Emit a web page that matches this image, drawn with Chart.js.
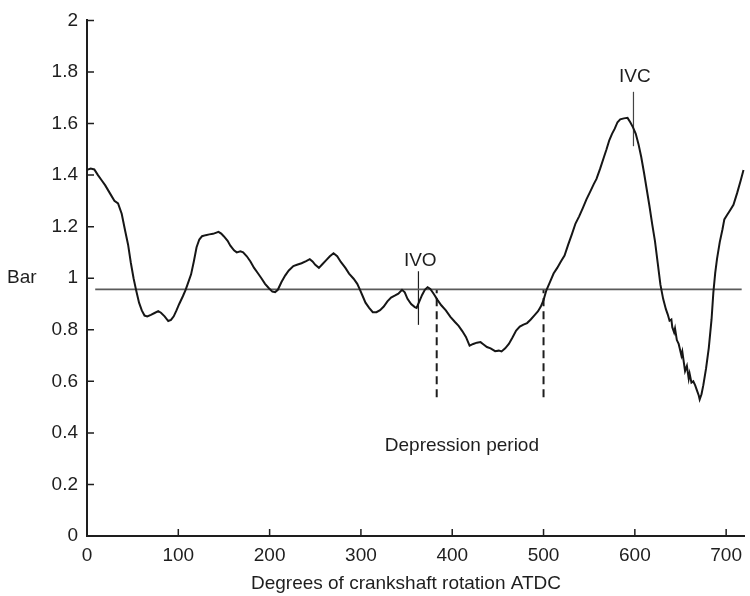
<!DOCTYPE html>
<html lang="en">
<head>
    <meta charset="UTF-8">
    <script src="https://cdn.jsdelivr.net/npm/chart.js@4.4.1/dist/chart.umd.min.js"></script>
    <title>Cylinder pressure</title>
    <style>
        body { margin: 0; background: #fff; }
        #wrap { width: 750px; height: 596px; }
    </style>
</head>
<body>
<div id="wrap"><canvas id="myChart" width="750" height="596"></canvas></div>

<script>
// crank angle (deg ATDC) and pressure (bar)
const crankDeg = [0, 4, 8, 12, 16, 20, 25, 30, 34, 38, 42, 45, 48, 51, 54, 57, 60, 63, 66, 70,
    74, 78, 81, 85, 89, 92, 95, 98, 101, 105, 108, 111, 114, 117, 120, 123, 126, 130, 134, 138,
    141, 144, 147, 150, 154, 157, 161, 164, 168, 171, 175, 179, 183, 187, 191, 195, 199, 203, 206, 209,
    213, 217, 221, 226, 230, 235, 240, 244, 247, 250, 254, 258, 262, 266, 270, 274, 278, 283, 287, 292,
    296, 299, 302, 305, 309, 313, 317, 321, 325, 329, 333, 337, 341, 345, 348, 351, 355, 359, 361, 364,
    367, 370, 373, 376, 380, 384, 388, 393, 398, 403, 407, 411, 415, 419, 423, 427, 431, 434, 438, 442,
    447, 451, 454, 458, 462, 466, 470, 474, 478, 482, 486, 490, 494, 497, 500, 503, 507, 511, 515, 519,
    523, 527, 531, 535, 539, 543, 547, 551, 555, 558, 562, 566, 569, 572, 575, 578, 581, 584, 588, 592,
    595, 598, 601, 604, 607, 610, 613, 616, 619, 622, 625, 628, 631, 634, 636, 638, 640, 641, 643, 644,
    646, 648, 649, 651, 652, 654, 655, 657, 659, 660, 662, 664, 666, 668, 670, 671, 673, 675, 678, 681,
    684, 686, 688, 690, 693, 696, 698, 701, 704, 708, 712, 716, 719];
const pressureBar = [1.42, 1.425, 1.422, 1.40, 1.38, 1.36, 1.33, 1.30, 1.29, 1.25, 1.18, 1.13, 1.06, 1.00, 0.95, 0.905, 0.875, 0.855, 0.852, 0.858,
    0.865, 0.872, 0.866, 0.852, 0.834, 0.838, 0.852, 0.875, 0.90, 0.93, 0.955, 0.985, 1.015, 1.065, 1.12, 1.15, 1.163, 1.167, 1.17, 1.172,
    1.176, 1.18, 1.173, 1.162, 1.145, 1.126, 1.108, 1.10, 1.104, 1.10, 1.085, 1.065, 1.04, 1.02, 1.00, 0.978, 0.962, 0.948, 0.946, 0.955,
    0.985, 1.01, 1.03, 1.047, 1.052, 1.058, 1.066, 1.074, 1.065, 1.052, 1.04, 1.055, 1.07, 1.085, 1.097, 1.085, 1.063, 1.04, 1.018, 0.998,
    0.978, 0.955, 0.93, 0.905, 0.885, 0.868, 0.868, 0.876, 0.89, 0.91, 0.925, 0.932, 0.94, 0.955, 0.945, 0.92, 0.90, 0.888, 0.885, 0.91,
    0.935, 0.955, 0.965, 0.958, 0.938, 0.915, 0.895, 0.875, 0.85, 0.83, 0.815, 0.795, 0.772, 0.738, 0.745, 0.75, 0.752, 0.744, 0.733, 0.728,
    0.717, 0.719, 0.716, 0.728, 0.745, 0.77, 0.797, 0.812, 0.82, 0.826, 0.84, 0.856, 0.872, 0.89, 0.915, 0.952, 0.985, 1.018, 1.04, 1.065,
    1.088, 1.13, 1.17, 1.212, 1.24, 1.272, 1.306, 1.335, 1.365, 1.385, 1.425, 1.468, 1.50, 1.535, 1.56, 1.58, 1.605, 1.616, 1.62, 1.622,
    1.605, 1.585, 1.56, 1.52, 1.47, 1.41, 1.345, 1.28, 1.21, 1.145, 1.06, 0.975, 0.92, 0.88, 0.86, 0.835, 0.84, 0.81, 0.79, 0.805,
    0.76, 0.745, 0.73, 0.70, 0.715, 0.665, 0.64, 0.66, 0.61, 0.63, 0.595, 0.60, 0.585, 0.565, 0.545, 0.53, 0.55, 0.585, 0.65, 0.73,
    0.84, 0.945, 1.02, 1.075, 1.14, 1.19, 1.228, 1.245, 1.262, 1.285, 1.33, 1.38, 1.42];

// reference (atmospheric) line
const atmLevel = 0.957;
const atmFrom = 9, atmTo = 717;

// valve event markers
const ivoDeg = 363, ivoRange = [0.819, 1.027];
const ivcDeg = 598.5, ivcRange = [1.512, 1.723];
// depression period limits
const depressionDeg = [383, 500];
const depressionRange = [0.538, 0.954];

const xTicks = [0, 100, 200, 300, 400, 500, 600, 700];
const yTicks = [0, 0.2, 0.4, 0.6, 0.8, 1, 1.2, 1.4, 1.6, 1.8, 2];

const trace = crankDeg.map((d, i) => ({ x: d, y: pressureBar[i] }));
const vline = (deg, r) => [{ x: deg, y: r[0] }, { x: deg, y: r[1] }];

const ink = '#1e1e1e';
const fontFamily = '"Liberation Sans", Arial, sans-serif';

// ticks pointing into the plot, annotation text
const extras = {
    id: 'extras',
    afterDraw(chart) {
        const { ctx, chartArea } = chart;
        const x = chart.scales.x, y = chart.scales.y;
        ctx.save();
        ctx.strokeStyle = ink;
        ctx.lineWidth = 1.5;
        ctx.beginPath();
        xTicks.forEach(v => {
            const px = x.getPixelForValue(v);
            ctx.moveTo(px, chartArea.bottom);
            ctx.lineTo(px, chartArea.bottom - 7);
        });
        yTicks.forEach(v => {
            const py = y.getPixelForValue(v);
            ctx.moveTo(chartArea.left, py);
            ctx.lineTo(chartArea.left + 7, py);
        });
        ctx.stroke();

        ctx.fillStyle = ink;
        ctx.font = '19px ' + fontFamily;
        ctx.textAlign = 'center';
        ctx.textBaseline = 'middle';
        ctx.fillText('IVO', x.getPixelForValue(365), y.getPixelForValue(1.069));
        ctx.fillText('IVC', x.getPixelForValue(600), y.getPixelForValue(1.782));
        ctx.fillText('Depression period', x.getPixelForValue(410.6), y.getPixelForValue(0.35));
        ctx.fillText('Degrees of crankshaft rotation ATDC', 406, 584);
        ctx.textAlign = 'left';
        ctx.fillText('Bar', 7, y.getPixelForValue(1));
        ctx.restore();
    }
};

const ctx = document.getElementById('myChart').getContext('2d');
const myChart = new Chart(ctx, {
    type: 'line',
    data: {
        datasets: [
            { data: trace, borderColor: '#161616', borderWidth: 2 },
            { data: [{ x: atmFrom, y: atmLevel }, { x: atmTo, y: atmLevel }], borderColor: '#5a5a5a', borderWidth: 1.7 },
            { data: vline(ivoDeg, ivoRange), borderColor: ink, borderWidth: 1.2 },
            { data: vline(ivcDeg, ivcRange), borderColor: '#444', borderWidth: 1.2 },
            { data: vline(depressionDeg[0], depressionRange), borderColor: ink, borderWidth: 2, borderDash: [8, 5] },
            { data: vline(depressionDeg[1], depressionRange), borderColor: ink, borderWidth: 2, borderDash: [8, 5] }
        ]
    },
    options: {
        responsive: false,
        animation: false,
        datasets: { line: { pointRadius: 0, tension: 0, clip: false, fill: false } },
        layout: { padding: { top: 15, right: 0, left: 0, bottom: 0 } },
        plugins: { legend: { display: false }, tooltip: { enabled: false } },
        scales: {
            x: {
                type: 'linear',
                min: 0,
                max: 720,
                afterFit: s => { s.height = 60; },
                grid: { display: false, drawTicks: false },
                border: { color: ink, width: 2 },
                ticks: {
                    stepSize: 100,
                    includeBounds: false,
                    padding: 8,
                    color: ink,
                    maxRotation: 0,
                    font: { family: fontFamily, size: 19 }
                }
            },
            y: {
                min: 0,
                max: 2,
                afterFit: s => { s.width = 87; },
                grid: { display: false, drawTicks: false },
                border: { color: ink, width: 2 },
                ticks: {
                    stepSize: 0.2,
                    padding: 9,
                    color: ink,
                    font: { family: fontFamily, size: 19 },
                    callback: v => String(+v.toFixed(1))
                }
            }
        }
    },
    plugins: [extras]
});
</script>
</body>
</html>
